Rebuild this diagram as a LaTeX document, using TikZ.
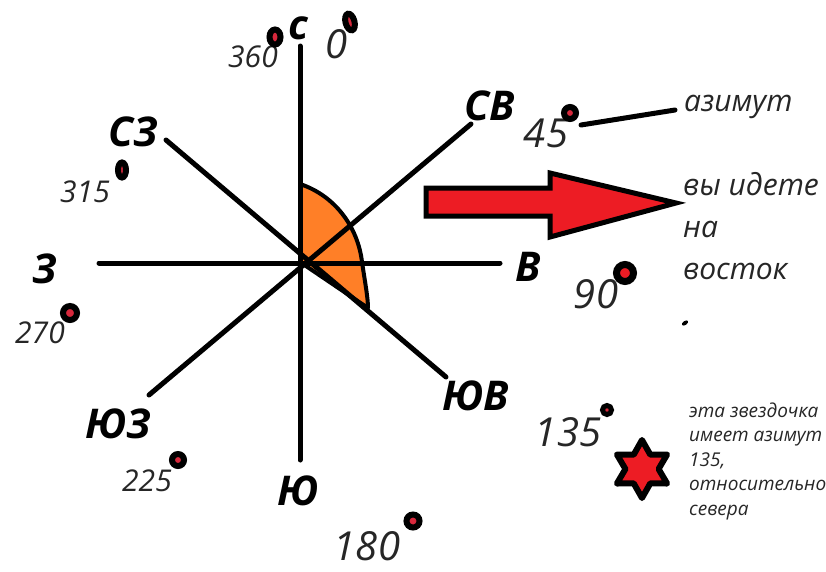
\documentclass[tikz,border=0pt]{standalone}
\usepackage{fontspec}
\setmainfont{Open Sans}
\usetikzlibrary{shapes.geometric}
\definecolor{pred}{HTML}{ED1C24}
\definecolor{porange}{HTML}{FF7F27}
\definecolor{dotred}{HTML}{D8283C}
\tikzset{
  compline/.style={line width=5pt, line cap=round},
  dirlabel/.style={font=\fontsize{41}{46}\selectfont\bfseries\itshape, inner sep=0pt},
  numlabel/.style={font=\fontsize{30}{36}\selectfont\itshape, text=black!85, inner sep=0pt},
  bignum/.style={font=\fontsize{40}{46}\selectfont\itshape, text=black!85, inner sep=0pt},
  dotmark/.style={circle, draw=black, fill=dotred, line width=6pt, minimum size=10pt, inner sep=0pt},
  bigdot/.style={circle, draw=black, fill=pred, line width=7pt, minimum size=17pt, inner sep=0pt},
  note/.style={font=\fontsize{30}{42}\selectfont\itshape, text=black!85, align=left, inner sep=0pt},
  smallnote/.style={font=\fontsize{19}{24.5}\selectfont\itshape, text=black!85, align=left, inner sep=0pt},
}
\begin{document}
\begin{tikzpicture}[x=1pt,y=-1pt]
\useasboundingbox[fill=white] (0,0) rectangle (826,571);
% compass centre and ends
\coordinate (O) at (300,262);
\coordinate (N) at (300,46);
\coordinate (S) at (300,460);
\coordinate (W) at (99,263);
\coordinate (E) at (500,263);
\coordinate (NE) at (471,124);
\coordinate (SW) at (149,395);
\coordinate (NW) at (166,140);
\coordinate (SE) at (446,377);
% orange sector
\draw[fill=porange, line width=4pt, line join=round] (O) -- (300,184) .. controls (336,196) and (358,228) .. (362,262) .. controls (365,282) and (368,298) .. (368,308) -- cycle;
% compass lines
\draw[compline] (N) -- (S);
\draw[compline] (W) -- (E);
\draw[compline] (SW) -- (NE);
\draw[compline] (NW) -- (SE);
% direction labels
\node[dirlabel] (lN) at (298,28) {с};
\node[dirlabel] (lNW) at (133,132) {СЗ};
\node[dirlabel] (lNE) at (490,106) {СВ};
\node[dirlabel] (lW) at (45,269) {З};
\node[dirlabel] (lE) at (528,267) {В};
\node[dirlabel] (lSW) at (118,424) {ЮЗ};
\node[dirlabel] (lSE) at (476,396) {ЮВ};
\node[dirlabel] (lS) at (298,491) {Ю};
% degree labels
\node[numlabel] (n360) at (253,57) {360};
\node[bignum] (n0) at (337,44) {0};
\node[bignum] (n45) at (546,133) {45};
\node[numlabel] (n315) at (85,192) {315};
\node[numlabel] (n270) at (40,333) {270};
\node[numlabel] (n225) at (147,481) {225};
\node[bignum] (n180) at (367,546) {180};
\node[bignum] (n90) at (596,294) {90};
\node[bignum] (n135) at (568,432) {135};
% dots
\node[dotmark, ellipse, minimum width=11pt, minimum height=15pt] (d360) at (275,37) {};
\node[dotmark, ellipse, minimum width=9pt, minimum height=17pt, rotate=15] (d0) at (350,22) {};
\node[dotmark, minimum size=12pt] (d45) at (570,113) {};
\node[dotmark, ellipse, minimum width=8pt, minimum height=15pt] (d315) at (122,170) {};
\node[dotmark, minimum size=14pt] (d270) at (70,313) {};
\node[dotmark, minimum size=12pt] (d225) at (178,460) {};
\node[dotmark, minimum size=13pt] (d180) at (413,521) {};
\node[bigdot] (d90) at (625,273) {};
\node[dotmark, minimum size=9pt, line width=5pt] (d135) at (607,410) {};
\fill[rotate around={35:(685,323)}] (685,323) ellipse (3.5pt and 2pt);
% azimut
\node[note, anchor=west] (az) at (684,107) {азимут};
\coordinate (azs) at (581,125);
\coordinate (aze) at (675,110);
\draw[line width=5pt, line cap=round] (azs) -- (aze);
% arrow
\draw[fill=pred, line width=5pt, line join=miter] (426,188) -- (550,188) -- (550,173) -- (676,203) -- (550,237) -- (550,216) -- (426,216) -- cycle;
\node[note, anchor=west] (go) at (683,226) {вы идете\\на\\восток};
% star
\node[star, star points=6, star point ratio=1.75, minimum size=58pt, inner sep=0pt, draw=black, fill=pred, line width=6pt, line join=round] (star) at (642,469) {};
\node[smallnote, anchor=west] (starnote) at (689,461) {эта звездочка\\имеет азимут\\135,\\относительно\\севера};
\end{tikzpicture}
\end{document}
